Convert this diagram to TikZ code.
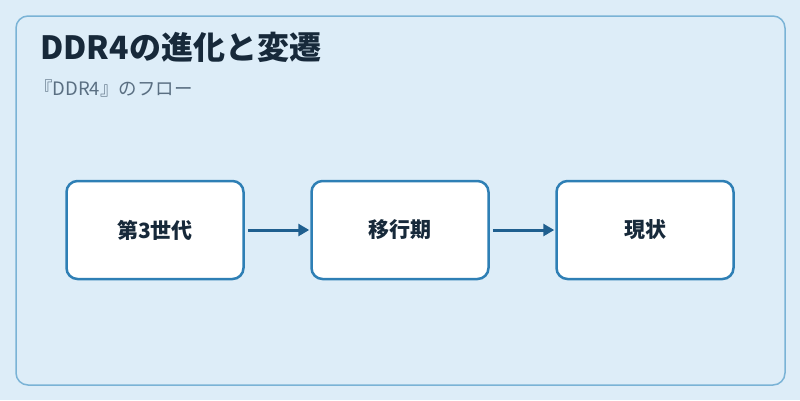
\documentclass[tikz,border=0pt]{standalone}
\usepackage{fontspec}
\setmainfont{Noto Sans CJK JP}
\usetikzlibrary{arrows.meta}
\definecolor{bgc}{HTML}{DDEDF8}
\definecolor{framec}{HTML}{7AB3D6}
\definecolor{boxc}{HTML}{2E7FB5}
\definecolor{arrc}{HTML}{1F5F8F}
\definecolor{titlec}{HTML}{17293A}
\definecolor{subc}{HTML}{5A6F82}
\tikzset{
  stepbox/.style={draw=boxc, line width=2.5pt, fill=white, rounded corners=11pt,
    minimum width=177pt, minimum height=98pt, inner sep=0pt,
    font=\fontsize{21}{24}\selectfont\bfseries, text=titlec},
  flowarrow/.style={draw=arrc, line width=3pt, -{Triangle[length=11pt,width=12pt]}},
}
\begin{document}
\begin{tikzpicture}[x=1pt,y=-1pt]
\useasboundingbox (0,0) rectangle (800,400);
\fill[bgc] (0,0) rectangle (800,400);
\draw[framec, line width=1.5pt, rounded corners=12pt] (16,16) rectangle (785,385);
\node[anchor=base west, text=titlec, font=\fontsize{32}{36}\selectfont\bfseries, inner sep=0pt] (title) at (40,59) {DDR4の進化と変遷};
\node[anchor=base west, text=subc, font=\fontsize{18.5}{21}\selectfont, inner sep=0pt] (sub) at (34,95) {『DDR4』のフロー};
\node[stepbox] (a) at (155,230) {第3世代};
\node[stepbox] (b) at (400,230) {移行期};
\node[stepbox] (c) at (645,230) {現状};
\draw[flowarrow] ([xshift=3pt]a.east) -- ([xshift=-1pt]b.west);
\draw[flowarrow] ([xshift=3pt]b.east) -- ([xshift=-1pt]c.west);
\end{tikzpicture}
\end{document}
